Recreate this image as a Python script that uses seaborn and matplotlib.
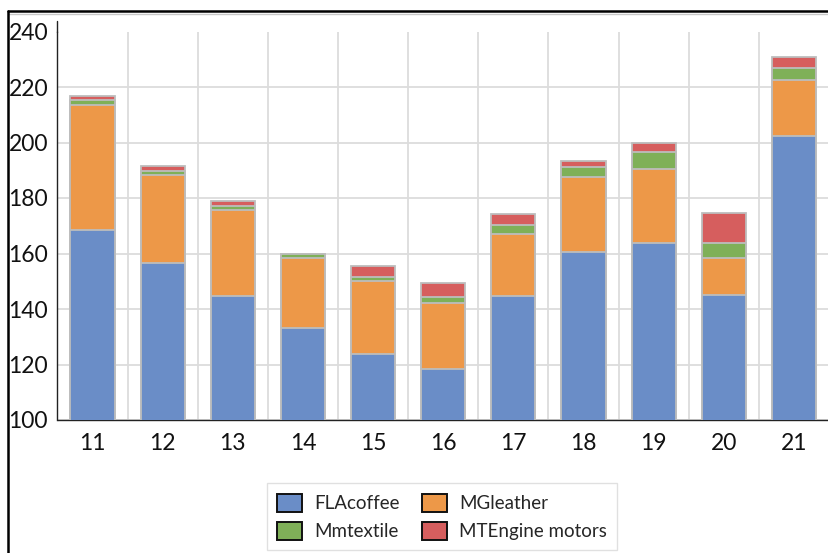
import numpy as np
import pandas as pd
import matplotlib
matplotlib.use("Agg")
import matplotlib.pyplot as plt
import seaborn as sns
from matplotlib.patches import Patch
from matplotlib.lines import Line2D

# Periods on the x axis and the four stacked series
categories = ["11", "12", "13", "14", "15", "16", "17", "18", "19", "20", "21"]
fla_coffee = [168.6, 156.6, 144.6, 133.3, 123.8, 118.3, 144.7, 160.6, 163.7, 145.2, 202.3]
mg_leather = [45.0, 31.6, 30.9, 24.9, 26.3, 24.0, 22.4, 27.1, 26.9, 13.2, 20.4]
mm_textile = [1.8, 1.7, 1.7, 1.6, 1.5, 2.1, 3.0, 3.6, 5.8, 5.3, 4.2]
mt_engine = [1.4, 1.7, 1.8, 0.0, 3.9, 4.8, 4.0, 1.9, 3.6, 10.8, 4.0]
series_names = ["FLAcoffee", "MGleather", "Mmtextile", "MTEngine motors"]
colors = ["#6A8DC7", "#ED9848", "#7FB058", "#D65E5E"]
y_ticks = [100, 120, 140, 160, 180, 200, 220, 240]

sns.set_theme(style="white", rc={"axes.edgecolor": "#222222"})
plt.rcParams["font.family"] = ["Lato", "DejaVu Sans"]

series = [fla_coffee, mg_leather, mm_textile, mt_engine]
df = pd.DataFrame({name: vals for name, vals in zip(series_names, series)})
df.insert(0, "period", categories)
tops = df[series_names].cumsum(axis=1)

W, H = 829, 553
fig = plt.figure(figsize=(W / 100, H / 100), dpi=100)
ax = fig.add_axes([57.5 / W, 1 - 420 / H, 1 - 57.5 / W, (420 - 31.5) / H])
ncat = len(categories)

# Stacked bars: draw cumulative totals from the top layer down
for name, color in reversed(list(zip(series_names, colors))):
    sns.barplot(x=df["period"], y=tops[name], color=color, saturation=1,
                width=0.63, edgecolor="#BDBDBD", linewidth=1.3,
                errorbar=None, ax=ax, zorder=3)

ax.set_xlim(-0.5, ncat - 0.5)
ax.set_ylim(100, 240)
ax.set_yticks(y_ticks)
ax.set_yticklabels([str(t) for t in y_ticks])
ax.set_xlabel("")
ax.set_ylabel("")

# Grid: horizontal at value ticks, vertical between categories
ax.set_xticks(np.arange(0.5, ncat - 1, 1.0), minor=True)
ax.grid(True, which="major", axis="y", color="#DCDCDC", linewidth=1.3, zorder=0)
ax.grid(True, which="minor", axis="x", color="#DCDCDC", linewidth=1.3, zorder=0)
ax.grid(False, which="major", axis="x")
ax.get_ygridlines()[-1].set_visible(False)
ax.set_axisbelow(True)

for side in ["top", "right"]:
    ax.spines[side].set_visible(False)
for side in ["left", "bottom"]:
    ax.spines[side].set_color("#222222")
    ax.spines[side].set_linewidth(1.0)

ax.tick_params(axis="both", which="both", length=0, labelsize=16.5, colors="#111111")
ax.tick_params(axis="y", pad=6.8)
ax.tick_params(axis="x", pad=9)

# Value axis line continues a little above the plot area
fig.add_artist(Line2D([57.5 / W, 57.5 / W], [1 - 31.5 / H, 1 - 21 / H], color="#222222",
                      linewidth=1.0, transform=fig.transFigure))

# Legend below the plot, entries laid out row by row
order = [0, 2, 1, 3]
handles = [Patch(facecolor=colors[i], edgecolor="#111111", linewidth=1.4,
                 label=series_names[i]) for i in order]
leg = fig.legend(handles=handles, loc="upper center", ncol=2,
                 bbox_to_anchor=(442 / W, 1 - 474 / H), fontsize=13.5,
                 frameon=True, fancybox=False, edgecolor="#D9D9D9",
                 handlelength=1.33, handleheight=1.12, handletextpad=0.65,
                 columnspacing=1.2, labelspacing=0.5, borderpad=0.55)
leg.get_frame().set_linewidth(1.0)

# Outer frame of the figure
fig.add_artist(Line2D([8 / W, 1], [1 - 11 / H, 1 - 11 / H], color="black",
                      linewidth=1.8, transform=fig.transFigure))
fig.add_artist(Line2D([9 / W, 1], [1 - 14 / H, 1 - 14 / H], color="#C8C8C8",
                      linewidth=1.0, transform=fig.transFigure))
fig.add_artist(Line2D([8 / W, 8 / W], [0, 1 - 11 / H], color="black",
                      linewidth=1.8, transform=fig.transFigure))

fig.savefig("out.png", dpi=100)
